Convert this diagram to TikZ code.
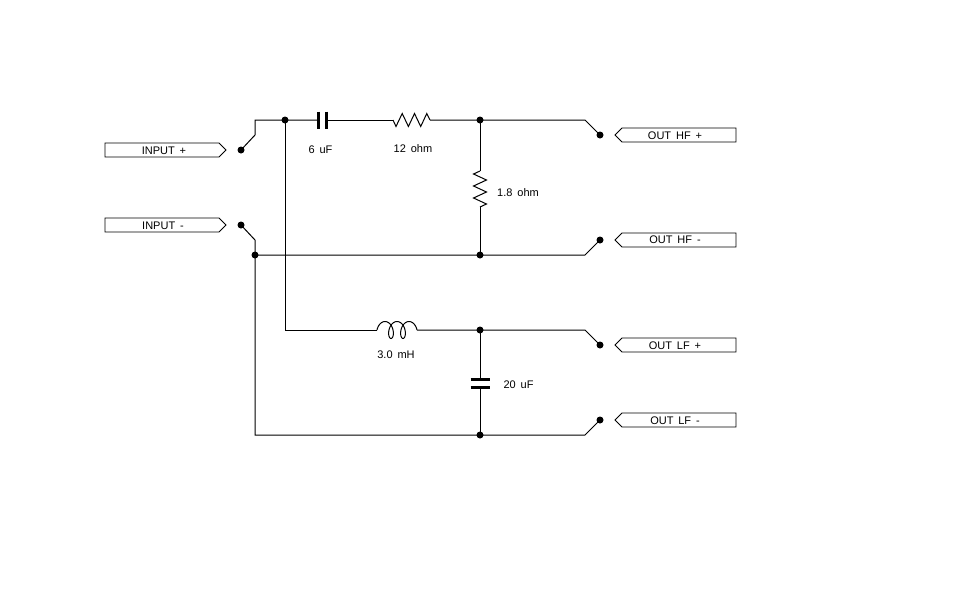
\documentclass[tikz,border=0pt]{standalone}
\usepackage{fontspec}
\setmainfont{Liberation Sans}[WordSpace=1.6]
\begin{document}
\begin{tikzpicture}[x=1pt,y=-1pt,
  wire/.style={line width=1pt},
  jdot/.style={circle,fill=black,inner sep=0pt,minimum size=7pt},
  plate/.style={line width=3pt},
  lbl/.style={font=\fontsize{11}{13}\selectfont, anchor=base, inner sep=0pt},
  flagbox/.style={line width=0.9pt},
  inflag/.pic={\draw[flagbox] (-57,-7) -- (57,-7) -- (64,0) -- (57,7) -- (-57,7) -- cycle;},
  outflag/.pic={\draw[flagbox] (57,-7) -- (-57,-7) -- (-64,0) -- (-57,7) -- (57,7) -- cycle;}]
\useasboundingbox[fill=white] (0,0) rectangle (960,600);

% flags
\pic at (162,150) {inflag};
\pic at (162,225) {inflag};
\pic at (679,135) {outflag};
\pic at (679,240) {outflag};
\pic at (679,345) {outflag};
\pic at (679,420) {outflag};
\node[lbl] (fip) at (164,154) {INPUT +};
\node[lbl] (fim) at (163,229) {INPUT -};
\node[lbl] (fhp) at (675,139.5) {OUT HF +};
\node[lbl] (fhm) at (675,243.5) {OUT HF -};
\node[lbl] (flp) at (675,349.5) {OUT LF +};
\node[lbl] (flm) at (675,424) {OUT LF -};

% terminals
\node[jdot] (tip) at (241,150) {};
\node[jdot] (tim) at (241,225) {};
\node[jdot] (thp) at (600,135) {};
\node[jdot] (thm) at (600,240) {};
\node[jdot] (tlp) at (600,345) {};
\node[jdot] (tlm) at (600,420) {};
% junctions
\node[jdot] (ja) at (285,120) {};
\node[jdot] (jb) at (480,120) {};
\node[jdot] (jc) at (255,255) {};
\node[jdot] (jd) at (480,255) {};
\node[jdot] (je) at (480,330) {};
\node[jdot] (jf) at (480,435) {};
% bends
\coordinate (b1) at (255,135);
\coordinate (b2) at (255,120);
\coordinate (b3) at (255,240);
\coordinate (b4) at (255,435);
\coordinate (b5) at (285,330);
\coordinate (h1) at (585,120);
\coordinate (h2) at (585,255);
\coordinate (l1) at (585,330);
\coordinate (l2) at (585,435);
% component ends
\coordinate (c1a) at (318.5,120);
\coordinate (c1b) at (326.5,120);
\coordinate (r1a) at (393,120);
\coordinate (r1b) at (430,120);
\coordinate (r2a) at (480,171);
\coordinate (r2b) at (480,207);
\coordinate (l1a) at (377,330);
\coordinate (l1b) at (417,330);
\coordinate (c2a) at (480,379);
\coordinate (c2b) at (480,387);

% wires
\draw[wire] (tip.center) -- (b1) -- (b2) -- (ja.center) -- (c1a);
\draw[wire] (c1b) -- (r1a);
\draw[wire] (r1b) -- (jb.center) -- (h1) -- (thp.center);
\draw[wire] (jb.center) -- (r2a);
\draw[wire] (r2b) -- (jd.center);
\draw[wire] (tim.center) -- (b3) -- (jc.center) -- (b4) -- (jf.center) -- (l2) -- (tlm.center);
\draw[wire] (jc.center) -- (jd.center) -- (h2) -- (thm.center);
\draw[wire] (ja.center) -- (b5) -- (l1a);
\draw[wire] (l1b) -- (je.center) -- (l1) -- (tlp.center);
\draw[wire] (je.center) -- (c2a);
\draw[wire] (c2b) -- (jf.center);

% capacitor 6 uF
\draw[plate] (318.5,111.5) -- (318.5,128.5);
\draw[plate] (326.5,111.5) -- (326.5,128.5);
% resistor 12 ohm
\draw[wire,line join=miter] (r1a) -- (396,126.5) -- (402.2,113.5) -- (408.4,126.5) -- (414.5,113.5) -- (420.7,126.5) -- (426.8,113.5) -- (r1b);
% resistor 1.8 ohm
\draw[wire,line join=miter] (r2a) -- (473.5,174) -- (486.5,180) -- (473.5,186) -- (486.5,192) -- (473.5,198) -- (486.5,204) -- (r2b);
% inductor 3.0 mH
\draw[wire] plot[variable=\t, domain=pi/2:11*pi/2, samples=300, smooth] ({379 + 1.91*\t - 5*sin(\t r)}, {330 + 8.5*cos(\t r)});
% capacitor 20 uF
\draw[plate] (470.5,379) -- (489.5,379);
\draw[plate] (470.5,387) -- (489.5,387);

% labels
\node[lbl] (t1) at (320.5,153.5) {6 uF};
\node[lbl] (t2) at (413,152) {12 ohm};
\node[lbl] (t3) at (518,196.5) {1.8 ohm};
\node[lbl] (t4) at (396,358) {3.0 mH};
\node[lbl] (t5) at (518.5,388) {20 uF};
\end{tikzpicture}
\end{document}
